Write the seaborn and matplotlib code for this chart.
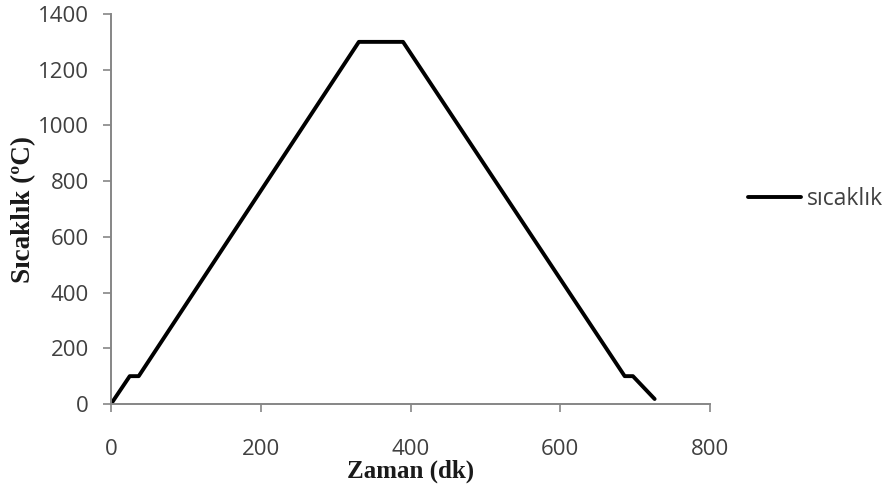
import matplotlib
matplotlib.use("Agg")
import matplotlib.pyplot as plt
import seaborn as sns
import pandas as pd

zaman = [0, 25, 37, 331, 390, 686, 697, 726]
sicaklik = [0, 100, 100, 1300, 1300, 100, 100, 18]
x_ticks = [0, 200, 400, 600, 800]
y_ticks = [0, 200, 400, 600, 800, 1000, 1200, 1400]

df = pd.DataFrame({"Zaman": zaman, "Sıcaklık": sicaklik, "seri": "sıcaklık"})

sns.set_style("white")
plt.rcParams["font.family"] = ["Open Sans", "DejaVu Sans"]

fig = plt.figure(figsize=(8.91, 4.9), dpi=100)
ax = fig.add_axes([0.1246, 0.1755, 0.6723, 0.7959])

sns.lineplot(data=df, x="Zaman", y="Sıcaklık", hue="seri", palette=["black"],
             linewidth=2.8, sort=False, ax=ax, legend=True)

ax.set_xlim(0, 800)
ax.set_ylim(0, 1400)
ax.set_xticks(x_ticks)
ax.set_yticks(y_ticks)
ax.tick_params(axis="both", labelsize=16, labelcolor="#404040", color="#868686",
               direction="out", length=6, width=1.2, bottom=True, left=True)
ax.tick_params(axis="x", pad=19)
ax.tick_params(axis="y", pad=10)
for s in ["top", "right"]:
    ax.spines[s].set_visible(False)
for s in ["left", "bottom"]:
    ax.spines[s].set_color("#868686")
    ax.spines[s].set_linewidth(1.4)

ax.set_xlabel("Zaman (dk)", fontfamily="Liberation Serif", fontweight="bold",
              fontsize=18, color="#1a1a1a", labelpad=0)
ax.set_ylabel("Sıcaklık (ºC)", fontfamily="Liberation Serif", fontweight="bold",
              fontsize=19.5, color="#1a1a1a", labelpad=1.5)

leg = ax.legend(loc="center left", bbox_to_anchor=(1.064, 0.525), frameon=False,
                fontsize=16.5, handlelength=2.3, handletextpad=0.25,
                borderpad=0, borderaxespad=0)
for t in leg.get_texts():
    t.set_color("#404040")

fig.savefig("out.png", dpi=100)
